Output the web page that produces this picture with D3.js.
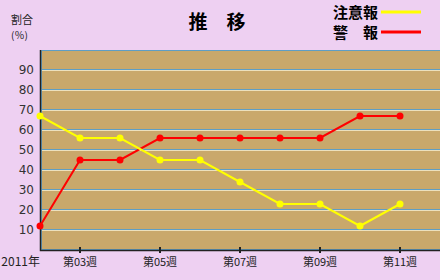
<!DOCTYPE html>
<html>
<head>
<meta charset="utf-8">
<script src="https://cdn.jsdelivr.net/npm/d3@7"></script>
<style>
  body { margin: 0; background: #eed0f2; }
  svg { display: block; }
  text { font-family: "Noto Sans CJK JP", "DejaVu Sans", sans-serif; }
</style>
</head>
<body>
<div id="chart"></div>
<script>
// 週番号（2011年）
var weeks = [2, 3, 4, 5, 6, 7, 8, 9, 10, 11];
// 注意報・警報の割合（％）
var chuiho = [67, 56, 56, 45, 45, 34, 23, 23, 12, 23];
var keiho = [12, 45, 45, 56, 56, 56, 56, 56, 67, 67];
var yTicks = [10, 20, 30, 40, 50, 60, 70, 80, 90];
var xTickWeeks = [3, 5, 7, 9, 11];
var yearLabel = "2011年";

var svgWidth = 440;
var svgHeight = 280;

var plot = { left: 41, top: 50, right: 440, bottom: 250 };

var svg = d3.select("#chart")
  .append("svg")
  .attr("width", svgWidth)
  .attr("height", svgHeight);

svg.append("rect")
  .attr("width", svgWidth)
  .attr("height", svgHeight)
  .attr("fill", "#eed0f2");

var x = d3.scaleLinear().domain([2, 11]).range([40, 400]);
var y = d3.scaleLinear().domain([0, 100]).range([plot.bottom, plot.top]);

// plot background
svg.append("rect")
  .attr("x", plot.left)
  .attr("y", plot.top)
  .attr("width", plot.right - plot.left)
  .attr("height", plot.bottom - plot.top)
  .attr("fill", "#c9a86b");

// grid lines (blue with light line below)
var grid = svg.append("g");
grid.selectAll("line.blue")
  .data(yTicks)
  .enter()
  .append("line")
  .attr("class", "blue")
  .attr("x1", plot.left)
  .attr("x2", plot.right)
  .attr("y1", d => Math.round(y(d)) - 0.5)
  .attr("y2", d => Math.round(y(d)) - 0.5)
  .attr("stroke", "#5f9ec4")
  .attr("stroke-width", 1);
grid.selectAll("line.light")
  .data(yTicks)
  .enter()
  .append("line")
  .attr("class", "light")
  .attr("x1", plot.left)
  .attr("x2", plot.right)
  .attr("y1", d => Math.round(y(d)) + 0.5)
  .attr("y2", d => Math.round(y(d)) + 0.5)
  .attr("stroke", "#ece0bc")
  .attr("stroke-width", 1);

// plot border (top, left, bottom)
svg.append("path")
  .attr("d", `M${plot.right},${plot.top + 0.5}H${plot.left + 0.5}V${plot.bottom - 0.5}H${plot.right}`)
  .attr("fill", "none")
  .attr("stroke", "#5f9ec4")
  .attr("stroke-width", 1);

// axes
svg.append("path")
  .attr("d", `M${plot.left - 0.5},${plot.top}V${plot.bottom + 0.5}H${plot.right}`)
  .attr("fill", "none")
  .attr("stroke", "#222")
  .attr("stroke-width", 1.5);

// y tick labels
svg.append("g")
  .selectAll("text")
  .data(yTicks)
  .enter()
  .append("text")
  .attr("x", 34)
  .attr("y", d => y(d) + 4)
  .attr("text-anchor", "end")
  .attr("font-size", 12)
  .attr("fill", "#333")
  .style("font-family", "DejaVu Sans, sans-serif")
  .text(d => d);

// x ticks
svg.append("g")
  .selectAll("line")
  .data(xTickWeeks)
  .enter()
  .append("line")
  .attr("x1", d => x(d))
  .attr("x2", d => x(d))
  .attr("y1", plot.bottom - 3)
  .attr("y2", plot.bottom + 3)
  .attr("stroke", "#222")
  .attr("stroke-width", 2);

svg.append("g")
  .selectAll("text")
  .data(xTickWeeks)
  .enter()
  .append("text")
  .attr("x", d => x(d))
  .attr("y", 266)
  .attr("text-anchor", "middle")
  .attr("font-size", 11)
  .attr("fill", "#222")
  .text(d => "第" + d3.format("02")(d) + "週");

svg.append("text")
  .attr("x", 40)
  .attr("y", 266)
  .attr("text-anchor", "end")
  .attr("font-size", 12)
  .attr("fill", "#222")
  .text(yearLabel);

// y axis unit
svg.append("text")
  .attr("x", 11)
  .attr("y", 24)
  .attr("font-size", 11)
  .attr("fill", "#222")
  .text("割合");
svg.append("text")
  .attr("x", 11)
  .attr("y", 39)
  .attr("font-size", 10)
  .attr("fill", "#222")
  .text("(％)");

// title
svg.append("text")
  .attr("x", 217)
  .attr("y", 29)
  .attr("text-anchor", "middle")
  .attr("font-size", 19)
  .attr("font-weight", "bold")
  .attr("fill", "#000")
  .text("推　移");

// lines
var line = d3.line()
  .x((d, i) => x(weeks[i]))
  .y(d => y(d));

function drawSeries(values, color) {
  svg.append("path")
    .datum(values)
    .attr("d", line)
    .attr("fill", "none")
    .attr("stroke", color)
    .attr("stroke-width", 2);
  svg.append("g")
    .selectAll("circle")
    .data(values)
    .enter()
    .append("circle")
    .attr("cx", (d, i) => x(weeks[i]))
    .attr("cy", d => y(d))
    .attr("r", 3.5)
    .attr("fill", color);
}

drawSeries(keiho, "#ff0000");
drawSeries(chuiho, "#ffff00");

// legend
var legend = [
  { label: "注意報", color: "#ffff00", y: 12 },
  { label: "警　報", color: "#ff0000", y: 32 }
];
var lg = svg.append("g");
lg.selectAll("text")
  .data(legend)
  .enter()
  .append("text")
  .attr("x", 378)
  .attr("y", d => d.y + 6)
  .attr("text-anchor", "end")
  .attr("font-size", 15)
  .attr("font-weight", "bold")
  .attr("fill", "#000")
  .text(d => d.label);
lg.selectAll("line")
  .data(legend)
  .enter()
  .append("line")
  .attr("x1", 381)
  .attr("x2", 421)
  .attr("y1", d => d.y)
  .attr("y2", d => d.y)
  .attr("stroke", d => d.color)
  .attr("stroke-width", 3);
</script>
</body>
</html>
